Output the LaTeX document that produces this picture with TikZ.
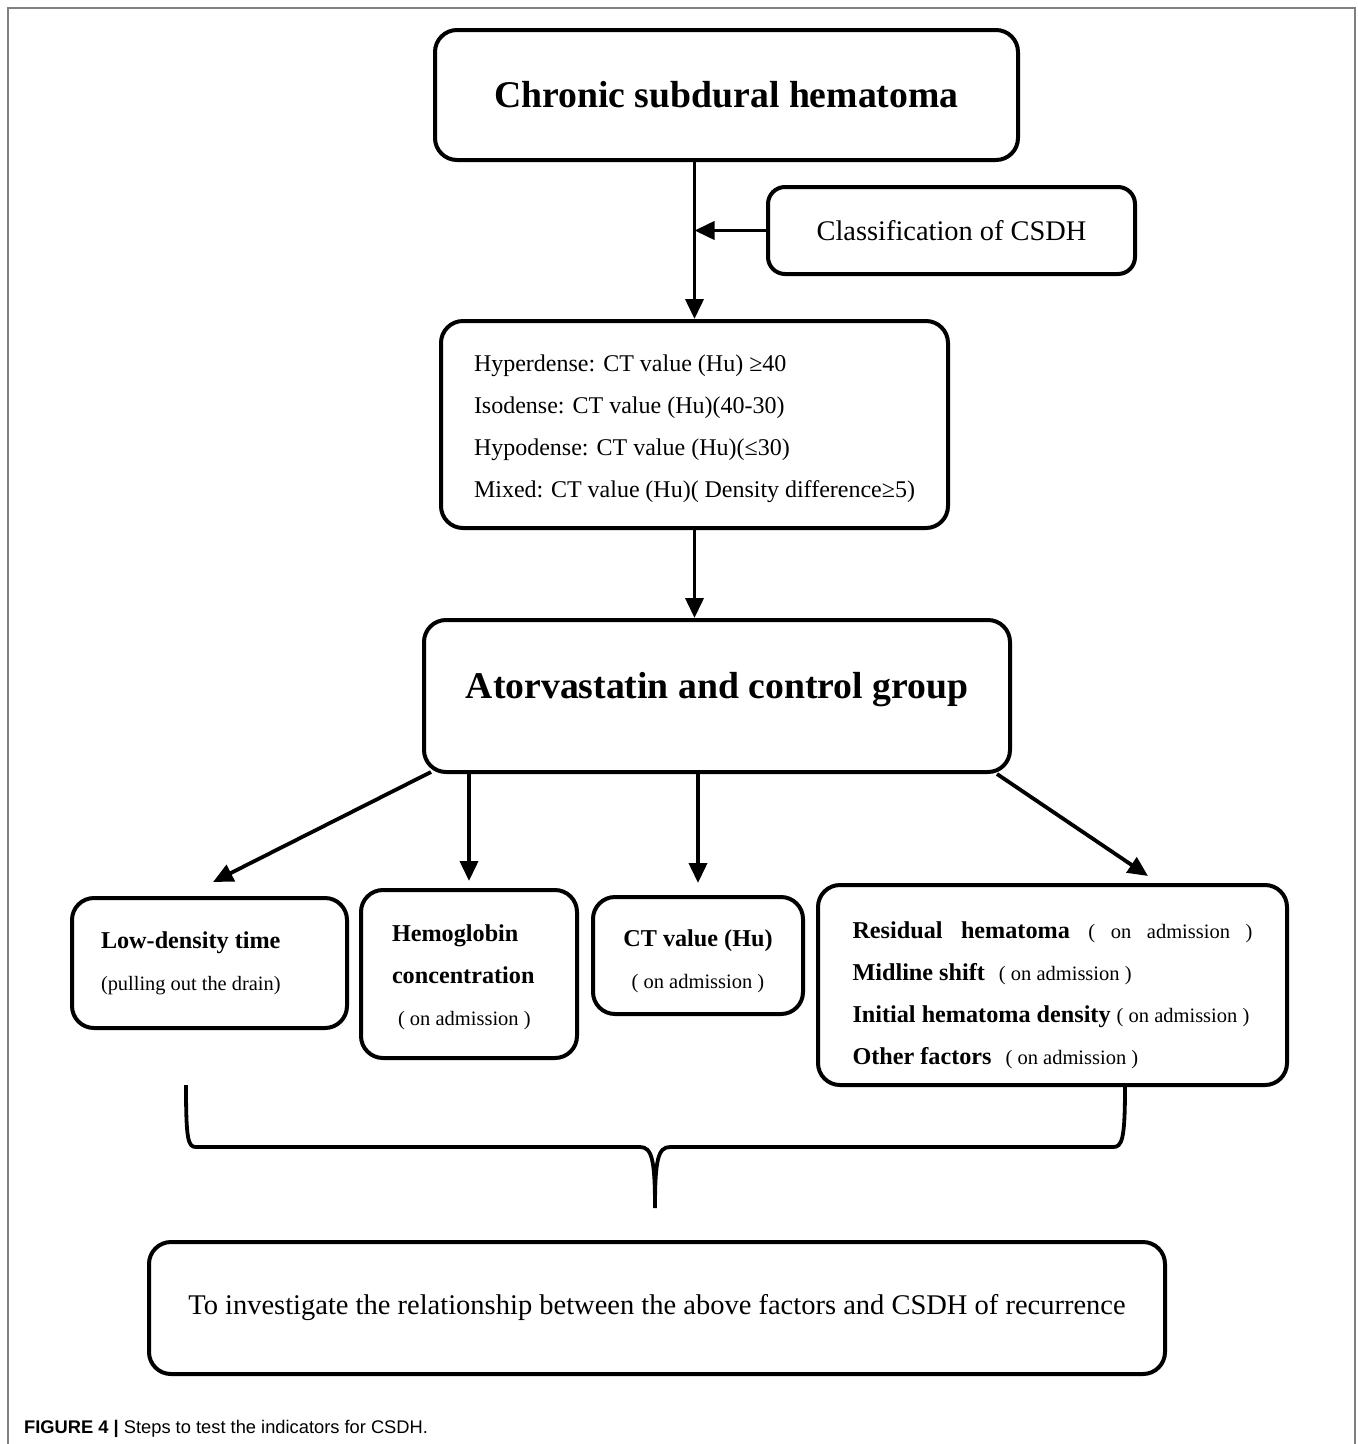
\documentclass[tikz,border=0pt]{standalone}
\usepackage{fontspec}
\setmainfont{Liberation Serif}
\setsansfont{Liberation Sans}
\usetikzlibrary{arrows.meta}

\newcommand{\adm}{{\fontsize{20.5}{42}\selectfont ( on admission )}}

\begin{document}
\begin{tikzpicture}[x=1pt,y=-1pt,
  box/.style={draw, line width=4pt, rounded corners=22pt, inner sep=0pt},
  arr/.style={line width=3.8pt, -{Triangle[length=20pt,width=18pt]}},
  big/.style={font=\fontsize{37.7}{44}\selectfont\bfseries},
  mid/.style={font=\fontsize{24.2}{42}\selectfont},
]
\useasboundingbox (0,0) rectangle (1358,1444);
% frame
\draw[gray, line width=1.3pt] (8,1444) -- (8,8) -- (1355,8) -- (1355,1444);

% top part
\node[box, big, minimum width=583pt, minimum height=130pt] (csdh) at (726.5,95) {\raisebox{-2pt}{Chronic subdural hematoma}};
\node[box, rounded corners=17pt, font=\fontsize{28.4}{32}\selectfont, minimum width=367pt, minimum height=87pt] (cls) at (951.5,230.5) {Classification of CSDH};
\node[box, font=\fontsize{24}{42}\selectfont, align=flush left, inner xsep=33pt, text width=441pt, minimum height=207pt] (dens) at (694.5,424.5)
  {\rule{0pt}{26pt}Hyperdense: CT value (Hu) ≥40\\
   Isodense: CT value (Hu)(40-30)\\
   Hypodense: CT value (Hu)(≤30)\\
   Mixed: CT value (Hu)( Density difference≥5)};
\node[box, big, minimum width=586pt, minimum height=152pt] (grp) at (717,696) {\raisebox{21pt}{Atorvastatin and control group}};

% factors
\node[box, mid, align=flush left, inner xsep=29pt, text width=217pt, minimum height=130pt] (low) at (209.5,963)
  {\textbf{Low-density time}\\ {\fontsize{20.4}{42}\selectfont (pulling out the drain)}};
\node[box, mid, align=flush left, inner xsep=31pt, text width=154pt, minimum height=168pt] (hb) at (469,974)
  {\rule{0pt}{24pt}\textbf{Hemoglobin}\\ \textbf{concentration}\\ \hspace*{6pt}\adm};
\node[box, mid, align=center, minimum width=210pt, minimum height=117pt] (ct) at (698,955.5)
  {\rule{0pt}{29pt}\textbf{CT value (Hu)}\\ \adm};
\node[box, mid, align=left, minimum width=469pt, minimum height=200pt] (oth) at (1052.5,985)
  {\rule{0pt}{37pt}\makebox[400pt][s]{\textbf{Residual hematoma} \fontsize{20.5}{42}\selectfont ( on admission )}\\
   \textbf{Midline shift}\hspace{14pt}\adm\\
   \textbf{Initial hematoma density} \adm\\
   \textbf{Other factors}\hspace{14pt}\adm};

% aim
\node[box, font=\fontsize{28.5}{32}\selectfont, minimum width=1016pt, minimum height=132pt] (aim) at (657,1308)
  {To investigate the relationship between the above factors and CSDH of recurrence};

% arrows
\draw[arr] (csdh.south -| dens.north) -- (dens.north);
\draw[arr] (cls.west) -- (cls.west -| dens.north);
\draw[arr] (dens.south) -- (dens.south |- grp.north);
\draw[arr] ([xshift=9pt,yshift=2pt]grp.south west) -- ([xshift=3.5pt,yshift=14pt]low.north);
\draw[arr] (grp.south -| hb.north) -- ([yshift=7pt]hb.north);
\draw[arr] (grp.south -| ct.north) -- ([yshift=12pt]ct.north);
\draw[arr] ([xshift=-15pt]grp.south east) -- ([xshift=95.5pt,yshift=7pt]oth.north);

% brace
\coordinate (bl) at (186,1085);
\coordinate (br) at (oth.south -| 1125,0);
\coordinate (bt) at (655,1208);
\draw[line width=3.8pt] (bl) .. controls (186,1140) and (188,1147) .. (196,1147) -- (640,1147)
  .. controls (652,1147) and (bt |- 0,1160) .. (bt)
  .. controls (bt |- 0,1160) and (658,1147) .. (670,1147) -- (1113,1147)
  .. controls (1122,1147) and (1125,1140) .. (br);

% caption
\node[anchor=base west, inner sep=0pt, font=\fontsize{18.3}{20}\selectfont\sffamily] (cap) at (24,1433)
  {\textbf{FIGURE 4 |} Steps to test the indicators for CSDH.};
\end{tikzpicture}
\end{document}
